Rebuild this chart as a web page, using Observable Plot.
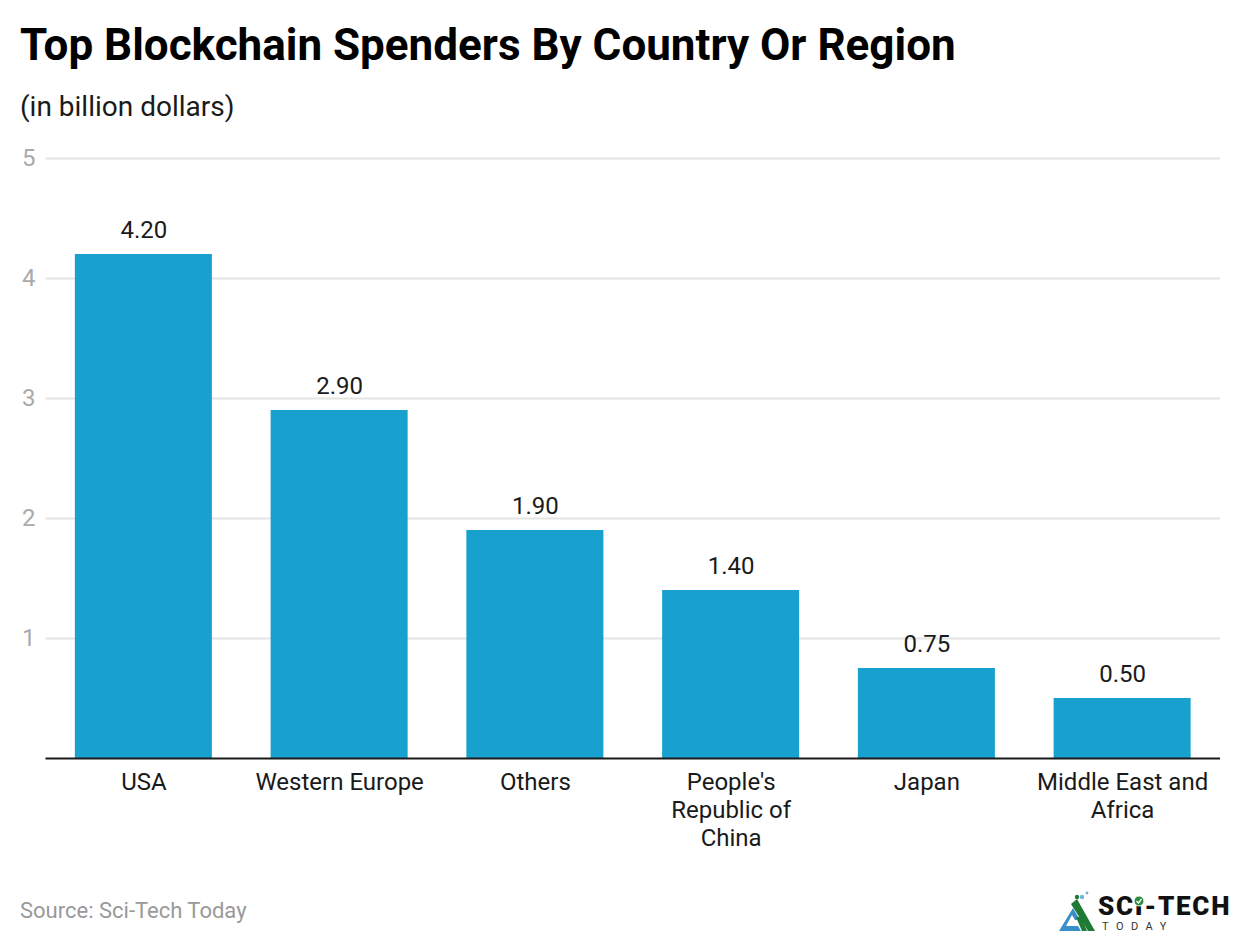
<!DOCTYPE html>
<html>
<head>
<meta charset="utf-8">
<script src="https://cdn.jsdelivr.net/npm/d3@7"></script>
<script src="https://cdn.jsdelivr.net/npm/@observablehq/plot@0.6"></script>
<style>
html,body{margin:0;padding:0;background:#fff;}
#page{position:relative;width:1240px;height:944px;overflow:hidden;font-family:Roboto,sans-serif;}
#title{position:absolute;left:20px;top:20px;font-size:44px;line-height:50px;font-weight:700;color:#000;white-space:nowrap;}
#subtitle{position:absolute;left:20px;top:90px;font-size:28px;line-height:34px;color:#1a1a1a;white-space:nowrap;}
#chart{position:absolute;left:0;top:130px;}
#chart svg{display:block;}
#source{position:absolute;left:20px;top:897px;font-size:22px;line-height:28px;color:#999;white-space:nowrap;}
#logo{position:absolute;left:1058px;top:890px;width:180px;height:44px;}
#logoName{position:absolute;left:40px;top:4px;font-size:26px;line-height:24px;font-weight:900;color:#111;white-space:nowrap;letter-spacing:1.75px;}
#logoSub{position:absolute;left:44px;top:31px;font-size:11px;line-height:12px;color:#333;letter-spacing:7.5px;white-space:nowrap;}
#logo svg{position:absolute;left:0;top:0;}
</style>
</head>
<body>
<div id="page">
  <div id="title">Top Blockchain Spenders By Country Or Region</div>
  <div id="subtitle">(in billion dollars)</div>
  <div id="chart"></div>
  <div id="source">Source: Sci-Tech Today</div>
  <div id="logo">
    <div id="logoName">SCI-TECH</div>
    <div id="logoSub">TODAY</div>
    <svg width="100" height="44" viewBox="0 0 100 44">
      <path d="M1 41 L15 18 L22 30 L17 30 L14 25 L8 36 L20 36 L23 41 Z" fill="#3b8fc9"/>
      <path d="M13 14 L19 9 L37 41 L30 41 Z" fill="#1f7a35"/>
      <path d="M18 27 L23 27 L29 41 L24 41 Z" fill="#1f7a35"/>
      <circle cx="19" cy="7" r="2.2" fill="#1f7a35"/>
      <circle cx="24" cy="7" r="2.2" fill="#6fb4dd"/>
      <circle cx="29" cy="3" r="1.4" fill="#6fb4dd"/>
      <circle cx="81" cy="11" r="5" fill="#2e8b3d" stroke="#fff" stroke-width="1"/>
      <path d="M78.5 11 L80.5 13 L83.5 9" fill="none" stroke="#fff" stroke-width="1.3"/>
    </svg>
  </div>
</div>
<script>
const categories = ["USA", "Western Europe", "Others", "People's Republic of China", "Japan", "Middle East and Africa"];
const values = [4.20, 2.90, 1.90, 1.40, 0.75, 0.50];
const valueLabels = ["4.20", "2.90", "1.90", "1.40", "0.75", "0.50"];
const tickLabels = ["USA", "Western Europe", "Others", "People's\nRepublic of\nChina", "Japan", "Middle East and\nAfrica"];
const yTicks = [1, 2, 3, 4, 5];

const rows = categories.map((c, i) => ({category: c, value: values[i], label: valueLabels[i], tick: tickLabels[i]}));
const tickByCategory = new Map(rows.map(d => [d.category, d.tick]));

const chart = Plot.plot({
  width: 1240,
  height: 730,
  marginTop: 28,
  marginBottom: 102,
  marginLeft: 45.5,
  marginRight: 20,
  style: {fontFamily: "Roboto, sans-serif", background: "#fff"},
  x: {domain: categories, paddingInner: 0.3, paddingOuter: 0.15, align: 0.5, round: false, label: null},
  y: {domain: [0, 5], label: null},
  marks: [
    Plot.gridY(yTicks, {stroke: "#e4e4e4", strokeOpacity: 1, strokeWidth: 2}),
    Plot.barY(rows, {x: "category", y: "value", fill: "#18a1cf"}),
    Plot.ruleY([0], {stroke: "#1a1a1a", strokeWidth: 2}),
    Plot.axisY({ticks: yTicks, tickSize: 0, tickPadding: 0, dx: -10.5, label: null, fontSize: 24, fill: "#aaaaaa", tickFormat: d => String(d)}),
    Plot.axisX({tickSize: 0, tickPadding: 0, dy: 12, label: null, fontSize: 24, fill: "#1a1a1a", lineHeight: 1.167, lineAnchor: "top", tickFormat: d => tickByCategory.get(d)}),
    Plot.text(rows, {x: "category", y: "value", text: "label", dy: -24, fontSize: 24, fill: "#1a1a1a"})
  ]
});
document.getElementById("chart").appendChild(chart);
</script>
</body>
</html>
